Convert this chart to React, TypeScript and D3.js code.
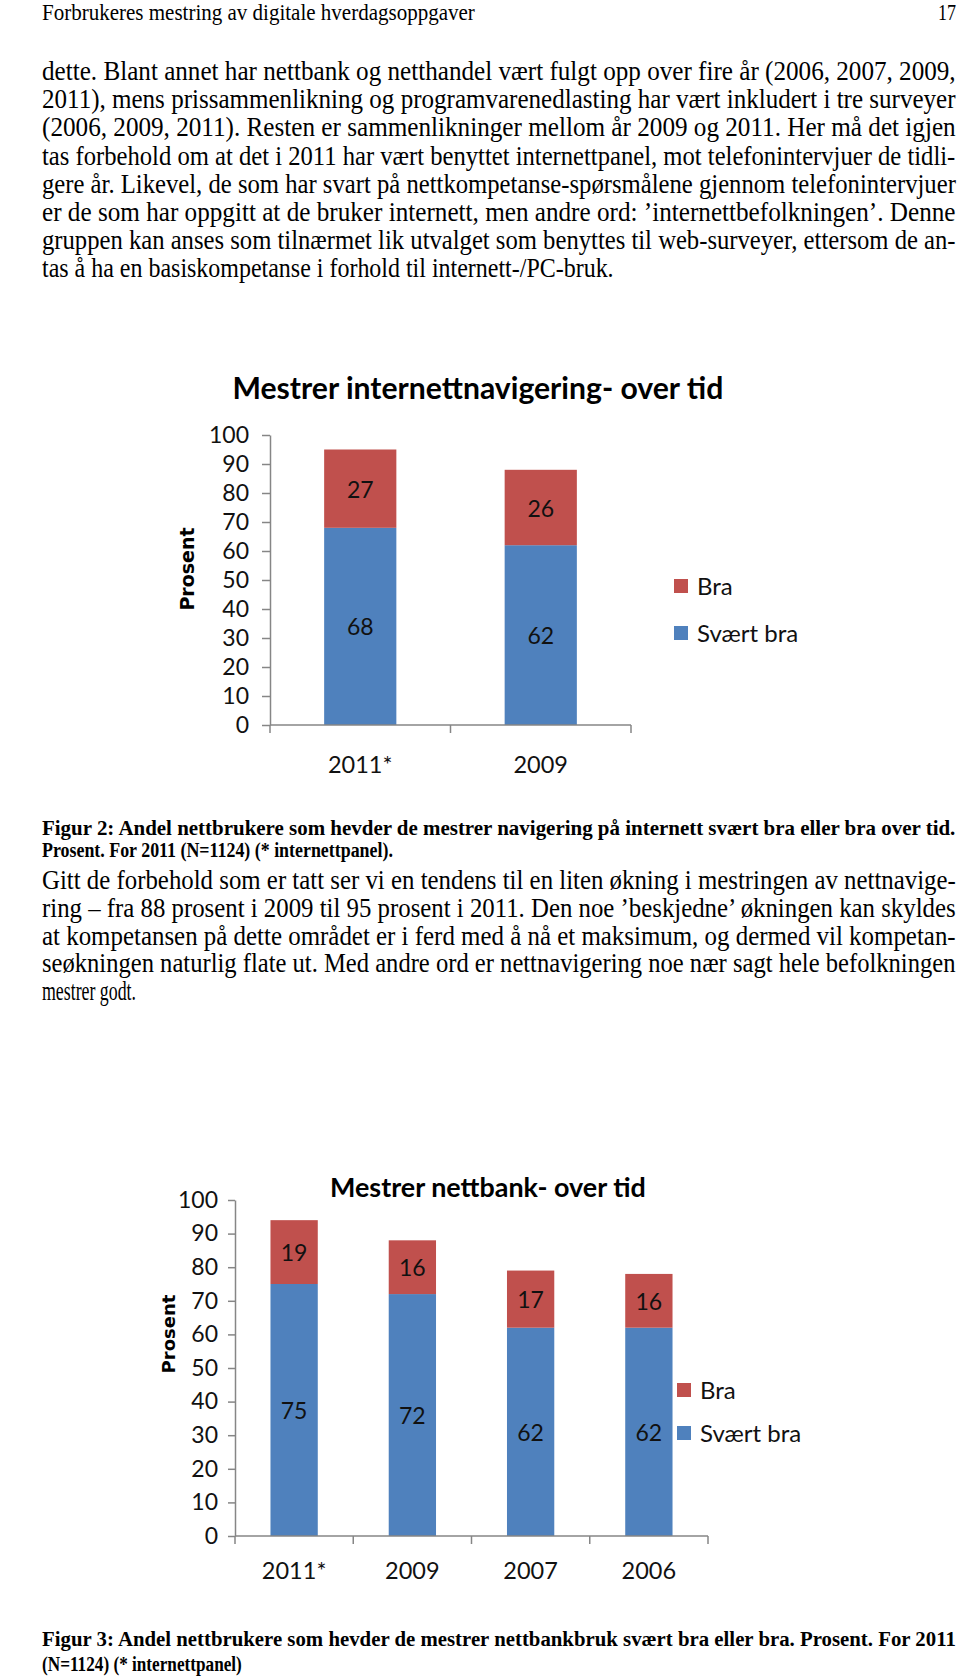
import React, { useEffect, useRef } from "react";
import * as d3 from "d3";

// ---------- data ----------
const nav_categories = ["2011*", "2009"];
const nav_svaertBra = [68, 62];
const nav_bra = [27, 26];

const bank_categories = ["2011*", "2009", "2007", "2006"];
const bank_svaertBra = [75, 72, 62, 62];
const bank_bra = [19, 16, 17, 16];

const yTicks = [0, 10, 20, 30, 40, 50, 60, 70, 80, 90, 100];
const seriesNames = ["Bra", "Svært bra"];

const headerText = "Forbrukeres mestring av digitale hverdagsoppgaver";
const pageNumber = "17";

const para1 = [
  "dette. Blant annet har nettbank og netthandel vært fulgt opp over fire år (2006, 2007, 2009,",
  "2011), mens prissammenlikning og programvarenedlasting har vært inkludert i tre surveyer",
  "(2006, 2009, 2011). Resten er sammenlikninger mellom år 2009 og 2011. Her må det igjen",
  "tas forbehold om at det i 2011 har vært benyttet internettpanel, mot telefonintervjuer de tidli-",
  "gere år. Likevel, de som har svart på nettkompetanse-spørsmålene gjennom telefonintervjuer",
  "er de som har oppgitt at de bruker internett, men andre ord: ’internettbefolkningen’. Denne",
  "gruppen kan anses som tilnærmet lik utvalget som benyttes til web-surveyer, ettersom de an-",
  "tas å ha en basiskompetanse i forhold til internett-/PC-bruk.",
];
const caption2 = [
  "Figur 2: Andel nettbrukere som hevder de mestrer navigering på internett svært bra eller bra over tid.",
  "Prosent. For 2011 (N=1124) (* internettpanel).",
];
const para2 = [
  "Gitt de forbehold som er tatt ser vi en tendens til en liten økning i mestringen av nettnavige-",
  "ring – fra 88 prosent i 2009 til 95 prosent i 2011. Den noe ’beskjedne’ økningen kan skyldes",
  "at kompetansen på dette området er i ferd med å nå et maksimum, og dermed vil kompetan-",
  "seøkningen naturlig flate ut. Med andre ord er nettnavigering noe nær sagt hele befolkningen",
  "mestrer godt.",
];
const caption3 = [
  "Figur 3: Andel nettbrukere som hevder de mestrer nettbankbruk svært bra eller bra. Prosent. For 2011",
  "(N=1124) (* internettpanel)",
];

const BLUE = "#4F81BD";
const RED = "#C0504D";
const AXIS = "#868686";
const CHART_FONT = "Lato, 'Open Sans', sans-serif";
const YTITLE_FONT = "'DejaVu Sans', Verdana, sans-serif";
const SERIF = "'Liberation Serif', 'Times New Roman', serif";

type G = d3.Selection<SVGGElement, unknown, null, undefined>;

// place a text starting at (x, y) and squeeze it horizontally to the given width
function fitText(parent: G, str: string, x: number, y: number, width: number,
  opts: { family: string; size: number; bold?: boolean; anchor?: "start" | "middle" | "end" }) {
  const t = parent.append("text")
    .attr("font-family", opts.family).attr("font-size", opts.size)
    .attr("font-weight", opts.bold ? "bold" : "normal").attr("fill", "#000")
    .text(str);
  const natural = (t.node() as SVGTextElement).getComputedTextLength() || width;
  const s = width / natural;
  const left = opts.anchor === "middle" ? x - width / 2 : opts.anchor === "end" ? x - width : x;
  t.attr("transform", `translate(${left},${y}) scale(${s},1)`);
  return t;
}

interface ChartCfg {
  title: string;
  titleSize: number; titleWidth: number;
  categories: string[];
  lower: number[];
  upper: number[];
  x0: number; x1: number; yTop: number; yBottom: number;
  tickSize: number; tickPad: number;
  titleX: number; titleY: number;
  prosentX: number; prosentY: number; prosentSize: number;
  xLabelY: number;
  legendX: number; legendY: number; legendGap: number;
}

function drawChart(root: G, c: ChartCfg) {
  const g = root.append("g") as G;
  const y = d3.scaleLinear().domain([0, 100]).range([c.yBottom, c.yTop]);
  const x = d3.scaleBand<string>().domain(c.categories).range([c.x0, c.x1]).paddingInner(0.6).paddingOuter(0.3);

  // title
  fitText(g, c.title, c.titleX, c.titleY, c.titleWidth, { family: CHART_FONT, size: c.titleSize, bold: true, anchor: "middle" });

  // bars
  const rows = c.categories.map((cat, i) => ({ cat, lo: c.lower[i], hi: c.upper[i] }));
  g.selectAll("rect.lo").data(rows).enter().append("rect").attr("class", "lo")
    .attr("x", d => x(d.cat)!).attr("width", x.bandwidth())
    .attr("y", d => y(d.lo)).attr("height", d => y(0) - y(d.lo)).attr("fill", BLUE);
  g.selectAll("rect.hi").data(rows).enter().append("rect").attr("class", "hi")
    .attr("x", d => x(d.cat)!).attr("width", x.bandwidth())
    .attr("y", d => y(d.lo + d.hi)).attr("height", d => y(d.lo) - y(d.lo + d.hi)).attr("fill", RED);

  // bar labels
  const lab = (sel: any) => sel.attr("text-anchor", "middle").attr("dominant-baseline", "central")
    .attr("font-family", CHART_FONT).attr("font-size", 23).attr("fill", "#111");
  g.selectAll("text.lo").data(rows).enter().append("text").attr("class", "lo")
    .attr("x", d => x(d.cat)! + x.bandwidth() / 2).attr("y", d => y(d.lo / 2)).call(lab).text(d => String(d.lo));
  g.selectAll("text.hi").data(rows).enter().append("text").attr("class", "hi")
    .attr("x", d => x(d.cat)! + x.bandwidth() / 2).attr("y", d => y(d.lo + d.hi / 2)).call(lab).text(d => String(d.hi));

  // y axis
  const ya = g.append("g").attr("transform", `translate(${c.x0},0)`)
    .call(d3.axisLeft(y).tickValues(yTicks).tickSize(c.tickSize).tickSizeOuter(0).tickPadding(c.tickPad));
  ya.select(".domain").attr("stroke", AXIS).attr("stroke-width", 1.5);
  ya.selectAll(".tick line").attr("stroke", AXIS).attr("stroke-width", 1.5);
  ya.selectAll(".tick text").attr("font-family", CHART_FONT).attr("font-size", 23).attr("fill", "#111");

  // x axis (Excel-style, ticks between categories)
  const [r0, r1] = x.range();
  const n = c.categories.length;
  const bounds = d3.range(n + 1).map(i => r0 + (i * (r1 - r0)) / n);
  g.append("line").attr("x1", r0).attr("x2", r1).attr("y1", y(0)).attr("y2", y(0))
    .attr("stroke", AXIS).attr("stroke-width", 1.5);
  g.selectAll("line.xt").data(bounds).enter().append("line").attr("class", "xt")
    .attr("x1", d => d).attr("x2", d => d).attr("y1", y(0)).attr("y2", y(0) + 8)
    .attr("stroke", AXIS).attr("stroke-width", 1.5);
  g.selectAll("text.xl").data(c.categories).enter().append("text").attr("class", "xl")
    .attr("x", d => x(d)! + x.bandwidth() / 2).attr("y", c.xLabelY).attr("text-anchor", "middle")
    .attr("font-family", CHART_FONT).attr("font-size", 23.5).attr("fill", "#111").text(d => d);

  // y title
  g.append("text").attr("transform", `translate(${c.prosentX},${c.prosentY}) rotate(-90)`)
    .attr("text-anchor", "middle").attr("dominant-baseline", "central")
    .attr("font-family", YTITLE_FONT).attr("font-weight", "bold").attr("font-size", c.prosentSize).attr("fill", "#000")
    .text("Prosent");

  // legend
  const colors = [RED, BLUE];
  seriesNames.forEach((name, i) => {
    const ly = c.legendY + i * c.legendGap;
    g.append("rect").attr("x", c.legendX).attr("y", ly).attr("width", 14).attr("height", 14).attr("fill", colors[i]);
    g.append("text").attr("x", c.legendX + 23).attr("y", ly + 16)
      .attr("font-family", CHART_FONT).attr("font-size", 24).attr("fill", "#111").text(name);
  });
}

function drawLines(root: G, lines: string[], top: number, step: number, widths: number[], size: number, bold = false) {
  lines.forEach((t, i) => {
    fitText(root, t, 42, top + i * step, widths[i], { family: SERIF, size, bold });
  });
}

export default function App() {
  const ref = useRef<SVGGElement>(null);
  useEffect(() => {
    const root = d3.select(ref.current!) as G;
    root.selectAll("*").remove();

    fitText(root, headerText, 42, 20, 433, { family: SERIF, size: 24 });
    fitText(root, pageNumber, 956, 20, 18, { family: SERIF, size: 24, anchor: "end" });

    drawLines(root, para1, 80, 28.2, [914, 914, 914, 914, 914, 914, 914, 572], 27);
    drawLines(root, caption2, 835, 22, [914, 351], 22, true);
    drawLines(root, para2, 889, 27.8, [914, 914, 914, 914, 94], 27);
    drawLines(root, caption3, 1646, 24.5, [914, 200], 22, true);

    drawChart(root, {
      title: "Mestrer internettnavigering- over tid", titleSize: 30, titleWidth: 491,
      categories: nav_categories, lower: nav_svaertBra, upper: nav_bra,
      x0: 270, x1: 631, yTop: 435, yBottom: 725,
      tickSize: 8, tickPad: 13,
      titleX: 478, titleY: 399,
      prosentX: 187, prosentY: 569, prosentSize: 19,
      xLabelY: 773,
      legendX: 674, legendY: 579, legendGap: 47,
    });
    drawChart(root, {
      title: "Mestrer nettbank- over tid", titleSize: 27, titleWidth: 316,
      categories: bank_categories, lower: bank_svaertBra, upper: bank_bra,
      x0: 235, x1: 708, yTop: 1200, yBottom: 1536,
      tickSize: 7, tickPad: 10,
      titleX: 488, titleY: 1197,
      prosentX: 168, prosentY: 1334, prosentSize: 18,
      xLabelY: 1579,
      legendX: 677, legendY: 1383, legendGap: 43,
    });
  }, []);
  return (
    <svg width={960} height={1680} style={{ position: "absolute", left: 0, top: 0, background: "#fff" }}>
      <rect width={960} height={1680} fill="#fff" />
      <g ref={ref} />
    </svg>
  );
}
